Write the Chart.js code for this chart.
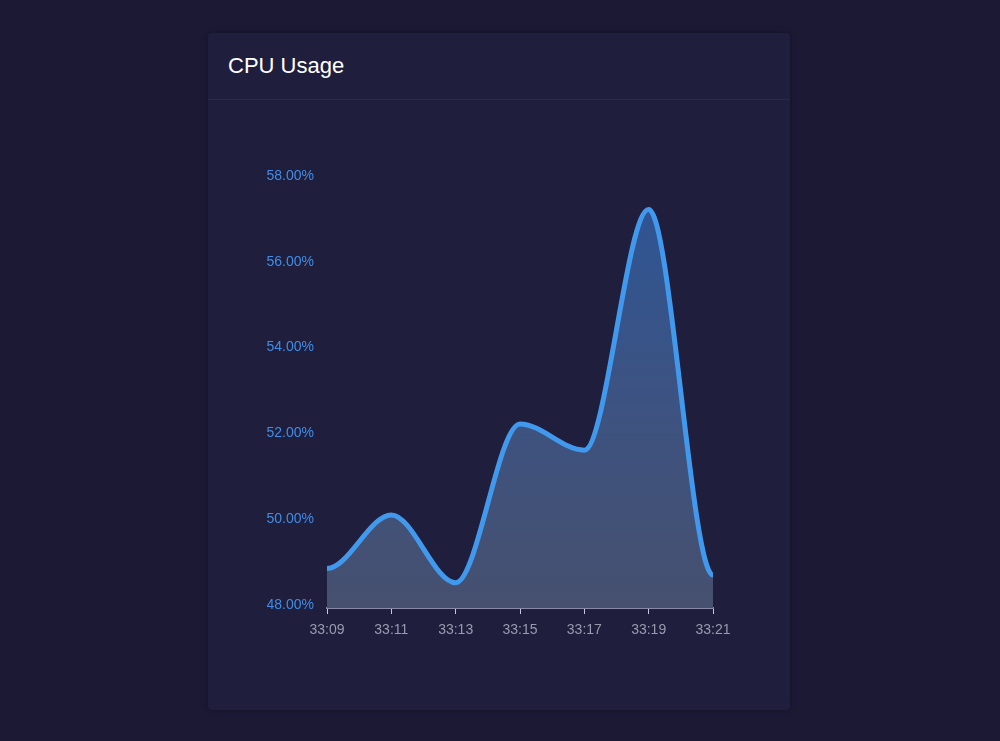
<!DOCTYPE html>
<html>
<head>
<meta charset="utf-8">
<script src="https://cdn.jsdelivr.net/npm/chart.js@4.4.0/dist/chart.umd.min.js"></script>
<style>
  html, body { margin:0; padding:0; width:1000px; height:741px; background:#1b1934; overflow:hidden; font-family:"Liberation Sans", Arial, sans-serif; }
  .card { position:absolute; left:208px; top:33px; width:582px; height:677px; background:#1f1e3d; border-radius:4px; box-shadow:0 0 6px rgba(0,0,0,0.25); }
  .header { position:absolute; left:0; top:0; width:582px; height:66px; border-bottom:1px solid #2a2a4c; }
  .title { position:absolute; left:20px; top:20px; font-size:22px; color:#ffffff; line-height:26px; }
  .wrap { position:absolute; left:0; top:67px; width:582px; height:610px; }
</style>
</head>
<body>
<div class="card">
  <div class="header"><div class="title">CPU Usage</div></div>
  <div class="wrap"><canvas id="c" width="582" height="610"></canvas></div>
</div>
<script>
const labels = ["33:09","33:11","33:13","33:15","33:17","33:19","33:21"];
const cpuUsage = [48.92, 50.17, 48.59, 52.29, 51.68, 57.29, 48.77];
const yTicks = [48, 50, 52, 54, 56, 58];

// Flatten the curve's tangents at both ends (smooth spline look)
const flatEnds = {
  id: 'flatEnds',
  beforeDatasetsDraw(chart) {
    chart.data.datasets.forEach((ds, i) => {
      const meta = chart.getDatasetMeta(i);
      const line = meta.dataset;
      if (!line) return;
      line.updateControlPoints(chart.chartArea, 'x');
      const pts = line.points;
      if (pts.length > 1) {
        pts[0].cp2y = pts[0].y;
        pts[pts.length - 1].cp1y = pts[pts.length - 1].y;
      }
    });
  }
};

const ctx = document.getElementById('c').getContext('2d');
new Chart(ctx, {
  type: 'line',
  data: {
    labels: labels,
    datasets: [{
      data: cpuUsage,
      borderColor: '#4199ee',
      borderWidth: 5,
      pointRadius: 0,
      pointHoverRadius: 0,
      cubicInterpolationMode: 'monotone',
      fill: 'start',
      backgroundColor: function(context) {
        const chart = context.chart;
        const area = chart.chartArea;
        if (!area) return 'rgba(70,80,110,0.9)';
        const g = chart.ctx.createLinearGradient(0, area.top, 0, area.bottom);
        g.addColorStop(0, '#2d5596');
        g.addColorStop(0.45, '#3b5384');
        g.addColorStop(1, '#46506f');
        return g;
      }
    }]
  },
  plugins: [flatEnds],
  options: {
    responsive: false,
    animation: false,
    events: [],
    layout: { padding: { left: 59, right: 77, top: 79, bottom: 72 } },
    plugins: { legend: { display: false }, tooltip: { enabled: false }, title: { display: false } },
    scales: {
      x: {
        offset: false,
        grid: { display: true, drawOnChartArea: false, drawTicks: true, tickLength: 6, color: '#c9c9d6', lineWidth: 1 },
        border: { display: true, color: '#8a89a6', width: 2 },
        ticks: { color: '#9a9aae', font: { family: '"Liberation Sans", Arial, sans-serif', size: 14 }, padding: 8, maxRotation: 0, autoSkip: false },
        afterFit: function(scale) { scale.height = 30; }
      },
      y: {
        min: 48, max: 58,
        grid: { display: false, drawTicks: false },
        border: { display: false },
        afterBuildTicks: function(scale) { scale.ticks = yTicks.map(v => ({ value: v })); },
        ticks: {
          color: '#3f8de6',
          font: { family: '"Liberation Sans", Arial, sans-serif', size: 14 },
          padding: 13,
          labelOffset: -3,
          callback: function(v) { return Number(v).toFixed(2) + '%'; }
        },
        afterFit: function(scale) { scale.width = 60; }
      }
    }
  }
});
</script>
</body>
</html>
